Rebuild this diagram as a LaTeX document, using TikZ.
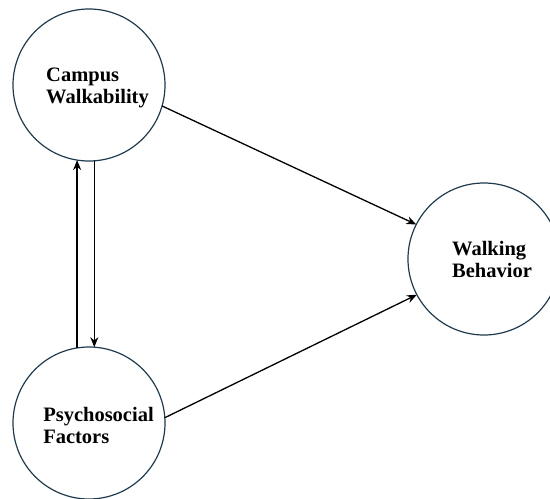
\documentclass[tikz,border=0pt]{standalone}
\usepackage{fontspec}
\setmainfont{Liberation Serif}
\usetikzlibrary{positioning, arrows.meta}
\definecolor{ring}{HTML}{1F3A4C}

\begin{document}
\begin{tikzpicture}[
        x=1pt, y=1pt,
        node distance=186pt and 243pt,
        factor/.style={draw=ring, circle, line width=1.2pt, minimum size=152pt, inner sep=0pt, outer sep=0pt},
        lbl/.style={font=\fontsize{20.5}{22}\selectfont\bfseries, align=left, inner sep=0pt},
        arrow/.style={-{Stealth[length=10pt, width=8pt]}, line width=1.3pt}
    ]
    \useasboundingbox (0,0) rectangle (550,-499);

    \node[factor, label={[lbl, xshift=8.5pt, yshift=-3pt]center:{Campus\\Walkability}}] (CW) at (89,-85) {};
    \node[factor, below=of CW, label={[lbl, xshift=9.5pt, yshift=-2pt]center:{Psychosocial\\Factors}}] (PF) {};
    \node[factor, right=of CW, yshift=-174pt, label={[lbl, xshift=8pt, yshift=0pt]center:{Walking\\Behavior}}] (WB) {};

    \draw[arrow] (PF.99) -- (CW.261);
    \draw[arrow] (CW.274) -- (PF.86);
    \draw[arrow] (CW.-16) -- (WB.153);
    \draw[arrow] (PF.4) -- (WB.208);

\end{tikzpicture}
\end{document}
